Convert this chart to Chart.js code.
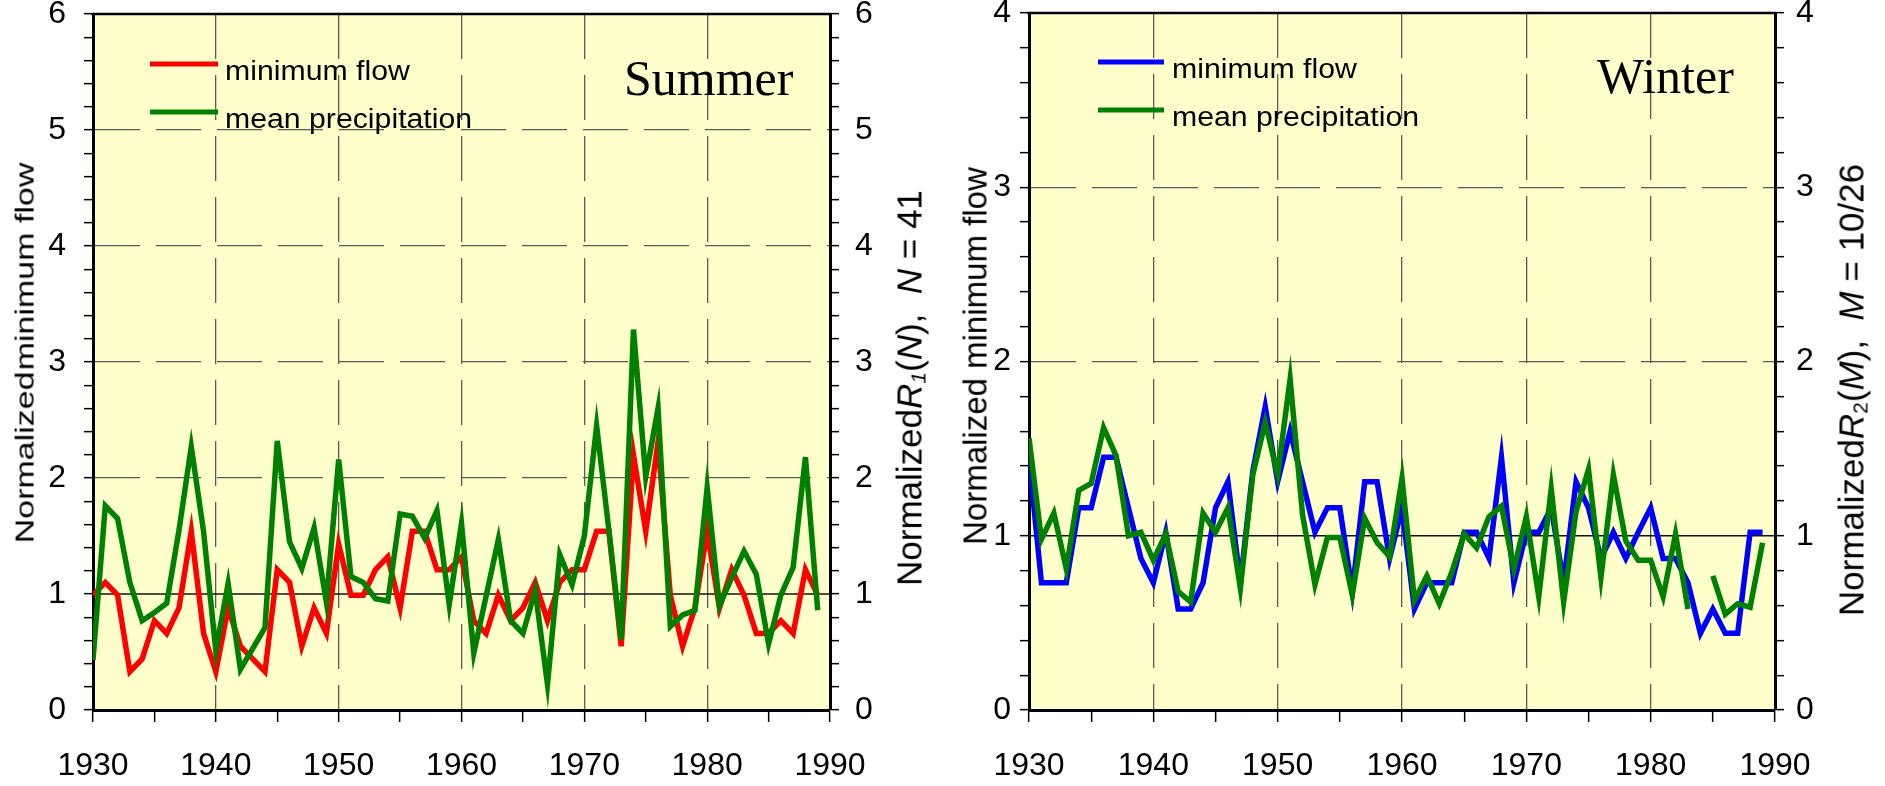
<!DOCTYPE html>
<html>
<head>
<meta charset="utf-8">
<title>Minimum flow vs mean precipitation</title>
<script src="https://cdn.jsdelivr.net/npm/chart.js@4.4.1/dist/chart.umd.min.js"></script>
<style>
  html, body { margin: 0; padding: 0; background: #fff; }
  body { width: 1885px; height: 786px; position: relative; overflow: hidden; font-family: 'Liberation Sans', Arial, sans-serif; }
  canvas { position: absolute; top: 0; }
  #summerCanvas { left: 0; }
  #winterCanvas { left: 942px; }
  .axis-title { position: absolute; white-space: nowrap; font-size: 35px; line-height: 1; color: #000;
    transform: translate(-50%, -50%) rotate(-90deg); }
  .axis-title sub { font-size: 0.6em; vertical-align: -0.2em; line-height: 0; }
</style>
</head>
<body>
<canvas id="summerCanvas" width="942" height="786"></canvas>
<canvas id="winterCanvas" width="943" height="786"></canvas>

<div class="axis-title" style="left:24px; top:353px; font-size:34px; transform: translate(-50%, -50%) rotate(-90deg) scaleY(0.76);">Normalized <span style="margin-left:-0.25em">minimum flow</span></div>
<div class="axis-title" style="left:909px; top:388px;">Normalized<i>R</i><sub><i>1</i></sub>(<i>N</i>), &nbsp;<i>N</i> = 41</div>
<div class="axis-title" style="left:975px; top:356px; font-size:33px;">Normalized minimum flow</div>
<div class="axis-title" style="left:1851px; top:390px;">Normalized<i>R</i><sub>2</sub>(<i>M</i>), &nbsp;<i>M</i> = 10/26</div>

<script>
// years shared by both panels
const years = [
  1930, 1931, 1932, 1933, 1934, 1935, 1936, 1937, 1938, 1939,
  1940, 1941, 1942, 1943, 1944, 1945, 1946, 1947, 1948, 1949,
  1950, 1951, 1952, 1953, 1954, 1955, 1956, 1957, 1958, 1959,
  1960, 1961, 1962, 1963, 1964, 1965, 1966, 1967, 1968, 1969,
  1970, 1971, 1972, 1973, 1974, 1975, 1976, 1977, 1978, 1979,
  1980, 1981, 1982, 1983, 1984, 1985, 1986, 1987, 1988, 1989
];

// Summer panel
const summerFlow = [
  0.99, 1.10, 0.99, 0.33, 0.44, 0.77, 0.66, 0.88, 1.54, 0.66,
  0.33, 0.88, 0.55, 0.44, 0.33, 1.21, 1.10, 0.55, 0.88, 0.66,
  1.43, 0.99, 0.99, 1.21, 1.32, 0.88, 1.54, 1.54, 1.21, 1.21,
  1.32, 0.77, 0.66, 0.99, 0.77, 0.88, 1.10, 0.77, 1.10, 1.21,
  1.21, 1.54, 1.54, 0.55, 2.20, 1.54, 2.31, 0.99, 0.55, 0.88,
  1.54, 0.88, 1.21, 0.99, 0.66, 0.66, 0.77, 0.66, 1.21, 0.99
];
const summerPrecip = [
  0.43, 1.76, 1.65, 1.10, 0.77, 0.84, 0.92, 1.55, 2.27, 1.54,
  0.51, 1.09, 0.35, 0.53, 0.71, 2.32, 1.45, 1.22, 1.57, 0.93,
  2.16, 1.15, 1.10, 0.96, 0.94, 1.69, 1.67, 1.48, 1.72, 0.91,
  1.61, 0.49, 0.98, 1.47, 0.77, 0.66, 1.03, 0.22, 1.34, 1.08,
  1.50, 2.45, 1.55, 0.61, 3.28, 2.01, 2.60, 0.72, 0.82, 0.86,
  1.92, 0.90, 1.14, 1.37, 1.17, 0.57, 0.99, 1.23, 2.18, 0.86
];

// Winter panel (no precipitation value for 1984)
const winterFlow = [
  1.45, 0.73, 0.73, 0.73, 1.16, 1.16, 1.45, 1.45, 1.16, 0.87,
  0.73, 1.02, 0.58, 0.58, 0.73, 1.16, 1.31, 0.73, 1.37, 1.74,
  1.31, 1.60, 1.31, 1.02, 1.16, 1.16, 0.68, 1.31, 1.31, 0.87,
  1.16, 0.58, 0.73, 0.73, 0.73, 1.02, 1.02, 0.87, 1.45, 0.73,
  1.02, 1.02, 1.16, 0.73, 1.31, 1.16, 0.87, 1.02, 0.87, 1.02,
  1.16, 0.87, 0.87, 0.73, 0.44, 0.58, 0.44, 0.44, 1.02, 1.02
];
const winterPrecip = [
  1.56, 0.98, 1.13, 0.81, 1.26, 1.30, 1.62, 1.46, 1.00, 1.02,
  0.86, 1.01, 0.68, 0.62, 1.13, 1.02, 1.16, 0.70, 1.35, 1.65,
  1.35, 1.90, 1.12, 0.72, 0.99, 0.99, 0.66, 1.10, 0.96, 0.88,
  1.33, 0.63, 0.77, 0.61, 0.79, 1.01, 0.93, 1.11, 1.17, 0.81,
  1.11, 0.65, 1.27, 0.62, 1.14, 1.38, 0.76, 1.35, 0.97, 0.86,
  0.86, 0.65, 1.01, 0.58, null, 0.77, 0.55, 0.61, 0.59, 0.96
];

const FONT = "'Liberation Sans', Arial, sans-serif";
const GRID = '#5a5a5a';
const CLEAR = 'rgba(0,0,0,0)';

const isWhole = (v) => Math.abs(v - Math.round(v)) < 1e-6;

// yellow plot background, top frame, solid reference line at 1
const plotFrame = {
  id: 'plotFrame',
  beforeDraw(chart) {
    const { ctx, chartArea: a } = chart;
    ctx.save();
    ctx.fillStyle = '#ffffcc';
    ctx.fillRect(a.left, a.top, a.right - a.left, a.bottom - a.top);
    ctx.restore();
  },
  beforeDatasetsDraw(chart) {
    const { ctx, chartArea: a } = chart;
    const y1 = chart.scales.y.getPixelForValue(1);
    ctx.save();
    ctx.strokeStyle = '#111';
    ctx.lineWidth = 1.5;
    ctx.beginPath();
    ctx.moveTo(a.left, y1);
    ctx.lineTo(a.right, y1);
    ctx.stroke();
    ctx.restore();
  },
  afterDraw(chart) {
    const { ctx, chartArea: a } = chart;
    ctx.save();
    ctx.strokeStyle = '#000';
    ctx.lineWidth = 2.5;
    ctx.beginPath();
    ctx.moveTo(a.left - 1.5, a.top);
    ctx.lineTo(a.right + 1.5, a.top);
    ctx.stroke();
    ctx.restore();
  }
};

// in-plot legend and season label
const seasonOverlay = {
  id: 'seasonOverlay',
  afterDatasetsDraw(chart, args, opts) {
    const ctx = chart.ctx;
    ctx.save();
    chart.data.datasets.forEach((ds, i) => {
      ctx.strokeStyle = ds.borderColor;
      ctx.lineWidth = 5;
      ctx.beginPath();
      ctx.moveTo(opts.lineX[0], opts.rowY[i]);
      ctx.lineTo(opts.lineX[1], opts.rowY[i]);
      ctx.stroke();

      ctx.save();
      ctx.translate(opts.textX, opts.baseY[i]);
      ctx.scale(1.12, 1);
      ctx.fillStyle = '#000';
      ctx.font = `27px ${FONT}`;
      ctx.textBaseline = 'alphabetic';
      ctx.fillText(ds.label, 0, 0);
      ctx.restore();
    });
    ctx.fillStyle = '#000';
    ctx.font = "50px 'Liberation Serif', 'Times New Roman', serif";
    ctx.textBaseline = 'alphabetic';
    ctx.fillText(opts.season, opts.seasonX, opts.seasonY);
    ctx.restore();
  }
};

const toPoints = (vals) => years.map((yr, i) => ({ x: yr, y: vals[i] }));

// drop the label overflow padding so the plot area keeps its set size
const noPad = (s) => { s.paddingTop = 0; s.paddingBottom = 0; s.paddingLeft = 0; s.paddingRight = 0; };

const yAxis = (position, yMax, width, padding, onArea) => ({
  type: 'linear',
  position,
  min: 0,
  max: yMax,
  afterFit: (s) => { s.width = width; noPad(s); },
  ticks: {
    stepSize: 0.2,
    autoSkip: false,
    padding,
    color: '#000',
    font: { family: FONT, size: 32, lineHeight: 1 },
    callback: (v) => (isWhole(v) ? String(Math.round(v)) : '')
  },
  grid: {
    drawOnChartArea: onArea,
    color: (c) => {
      const v = c.tick ? c.tick.value : 0;
      return isWhole(v) && v > 0 && v < yMax && Math.round(v) !== 1 ? GRID : CLEAR;
    },
    lineWidth: 1.3,
    tickLength: 9,
    tickColor: '#000',
    tickWidth: 1.5
  },
  border: { display: true, color: '#000', width: 3, dash: [45, 16] }
});

const makeChart = (canvasId, cfg) => {
  const ctx = document.getElementById(canvasId).getContext('2d');
  return new Chart(ctx, {
    type: 'line',
    data: {
      datasets: [
        {
          label: 'minimum flow',
          data: toPoints(cfg.flow),
          borderColor: cfg.flowColor,
          borderWidth: 5.5,
          pointRadius: 0,
          tension: 0,
          spanGaps: false,
          order: 1
        },
        {
          label: 'mean precipitation',
          data: toPoints(cfg.precip),
          borderColor: '#008000',
          borderWidth: 5.5,
          pointRadius: 0,
          tension: 0,
          spanGaps: false,
          order: 0
        }
      ]
    },
    options: {
      responsive: false,
      animation: false,
      events: [],
      layout: { padding: { top: cfg.top, left: 0, right: 0, bottom: 0 } },
      plugins: {
        legend: { display: false },
        tooltip: { enabled: false },
        seasonOverlay: cfg.overlay
      },
      scales: {
        x: {
          type: 'linear',
          min: 1930,
          max: 1990,
          afterFit: (s) => { s.height = 76; noPad(s); },
          ticks: {
            stepSize: 5,
            autoSkip: false,
            maxRotation: 0,
            padding: 28,
            color: '#000',
            font: { family: FONT, size: 32, lineHeight: 1 },
            callback: (v) => (v % 10 === 0 ? String(v) : '')
          },
          grid: {
            color: (c) => {
              const v = c.tick ? c.tick.value : 0;
              return v % 10 === 0 && v > 1930 && v < 1990 ? GRID : CLEAR;
            },
            lineWidth: 1.3,
            tickLength: 12,
            tickColor: '#000',
            tickWidth: 1.5
          },
          border: { display: true, color: '#000', width: 3, dash: [45, 16] }
        },
        y: yAxis('left', cfg.yMax, cfg.leftW, cfg.leftPad, true),
        y2: yAxis('right', cfg.yMax, cfg.rightW, cfg.rightPad, false)
      }
    },
    plugins: [plotFrame, seasonOverlay]
  });
};

makeChart('summerCanvas', {
  flow: summerFlow,
  precip: summerPrecip,
  flowColor: '#ff0000',
  yMax: 6,
  top: 14,
  leftW: 93, leftPad: 18,
  rightW: 112, rightPad: 16,
  overlay: {
    lineX: [150, 218], rowY: [64, 112], textX: 225, baseY: [80, 128],
    season: 'Summer', seasonX: 624, seasonY: 95
  }
});

makeChart('winterCanvas', {
  flow: winterFlow,
  precip: winterPrecip,
  flowColor: '#0000ff',
  yMax: 4,
  top: 13,
  leftW: 87, leftPad: 9,
  rightW: 110, rightPad: 12,
  overlay: {
    lineX: [156, 222], rowY: [62, 110], textX: 230, baseY: [78, 126],
    season: 'Winter', seasonX: 655, seasonY: 93
  }
});
</script>
</body>
</html>
